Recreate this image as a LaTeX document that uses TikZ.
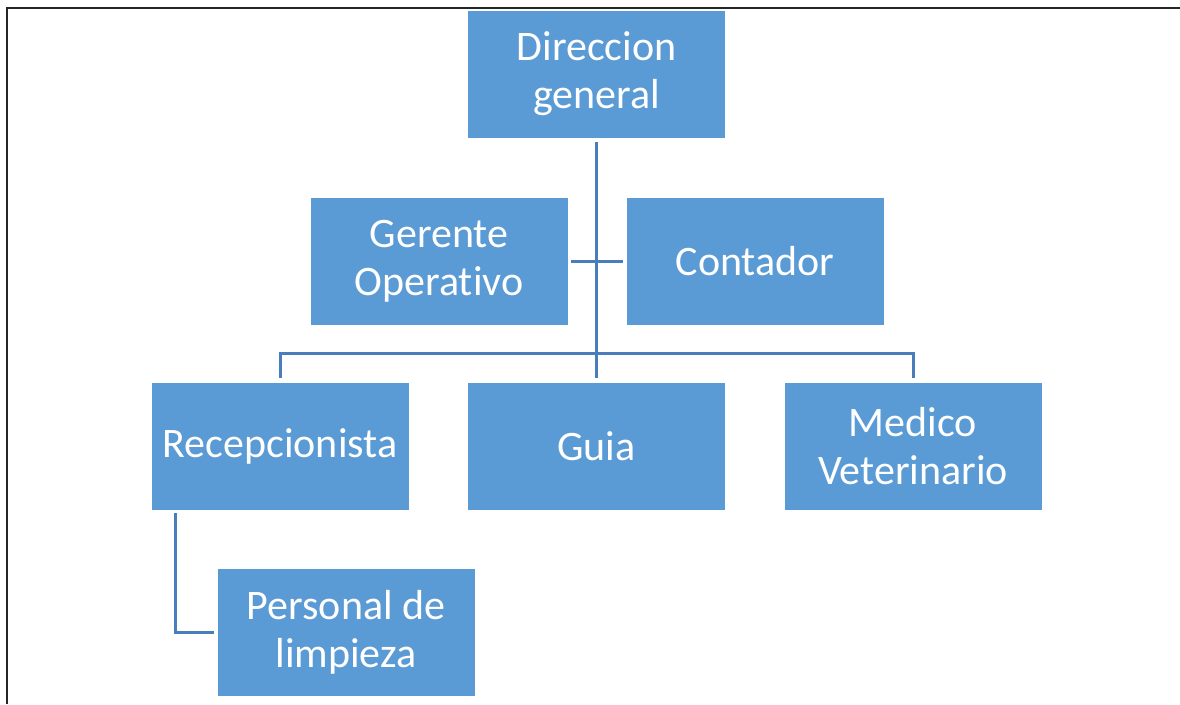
\documentclass[tikz,border=0pt]{standalone}
\usepackage{fontspec}
\setmainfont{Carlito}[Ligatures=NoCommon]
\definecolor{boxblue}{HTML}{5B9BD5}
\definecolor{lineblue}{HTML}{4A7EBB}
\begin{document}
\begin{tikzpicture}[x=1pt,y=-1pt,
  orgbox/.style={rectangle, fill=boxblue, draw=white, line width=0.8pt, minimum width=258pt, minimum height=128pt, inner sep=0pt, align=center, text=white, font=\fontsize{42}{48}\selectfont},
  conn/.style={draw=lineblue, line width=3pt}]
\useasboundingbox (0,0) rectangle (1180,704);
\draw[line width=2pt, black!85] (6.5,704) -- (6.5,7.5) -- (1180,7.5);
\node[orgbox] (dir) at (596.5,74) {Direccion\\general};
\node[orgbox] (ger) at (439,261) {Gerente\\Operativo};
\node[orgbox] (con) at (755,261) {Contador};
\node[orgbox] (rec) at (280,446) {Recepcionista};
\node[orgbox] (gui) at (596.5,446) {Guia};
\node[orgbox] (med) at (913,446) {Medico\\Veterinario};
\node[orgbox] (lim) at (346,632) {Personal de\\limpieza};
\coordinate (bus) at (596.5,353);
\draw[conn, shorten <=4pt, shorten >=4pt] (dir.south) -- (gui.north);
\draw[conn, shorten <=3pt, shorten >=3pt] (ger.east) -- (con.west);
\draw[conn] ([yshift=4pt]rec.north) |- (bus) -| ([yshift=4pt]med.north);
\draw[conn] ([shift={(25pt,-3pt)}]rec.south west) |- ([xshift=-3pt]lim.west);
\end{tikzpicture}
\end{document}
